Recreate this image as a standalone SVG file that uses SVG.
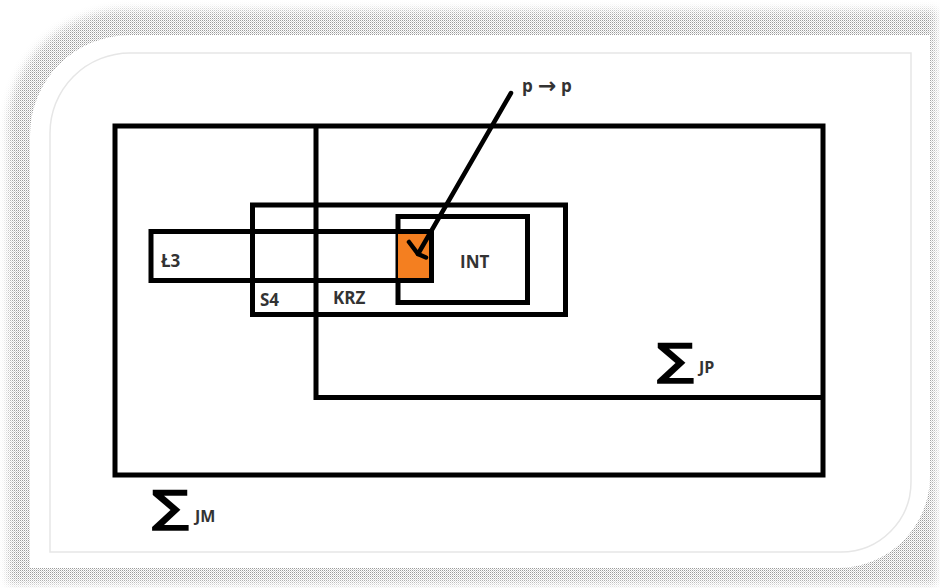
<svg xmlns="http://www.w3.org/2000/svg" width="940" height="588" viewBox="0 0 940 588">
<style>
.box{fill:none;stroke:#000;stroke-width:5}
.lbl{font-family:"Open Sans","Liberation Sans",sans-serif;font-weight:bold;fill:#333;font-size:17px}
.arr{font-family:"DejaVu Sans",sans-serif;font-weight:bold;font-size:22px}
.sig{font-family:"DejaVu Sans","Liberation Sans",sans-serif;font-weight:bold;fill:#000;font-size:45px}
.sub{font-family:"Open Sans","Liberation Sans",sans-serif;font-weight:bold;fill:#333;font-size:16px}
.conn{fill:none;stroke:#000;stroke-width:4.5;stroke-linecap:round;stroke-linejoin:round}
</style>
<defs>
<pattern id="dots" patternUnits="userSpaceOnUse" width="2" height="2">
<rect width="2" height="2" fill="#fff"/>
<rect x="0" y="0" width="1" height="1" fill="#9a9a9a"/>
<rect x="1" y="1" width="1" height="1" fill="#d2d2d2"/>
</pattern>
<filter id="soft" x="-5%" y="-5%" width="110%" height="110%"><feGaussianBlur stdDeviation="4"/></filter>
<mask id="shmask" maskUnits="userSpaceOnUse" x="0" y="0" width="940" height="588">
<path d="M8,130 A118 118 0 0 1 126,10 L936,10 L936,584 L8,584 Z" fill="#fff" filter="url(#soft)"/>
</mask>
</defs>
<rect width="940" height="588" fill="#fff"/>
<g id="frame">
<rect width="940" height="588" fill="url(#dots)" mask="url(#shmask)"/>
<path d="M30,135 A100 100 0 0 1 130,35 L930,35 L930,476 A92 92 0 0 1 838,568 L30,568 Z" fill="#fff"/>
<path d="M50,133 A80 80 0 0 1 130,53 L911,53 L911,482 A70 70 0 0 1 841,552 L50,552 Z" fill="none" stroke="#e6e6e6" stroke-width="1.5"/>
</g>
<g id="JM">
<rect class="box" x="115" y="126" width="708" height="349"/>
<text class="sig" transform="translate(151,522) scale(1.2,1)">∑</text>
<text class="sub" x="195" y="522">JM</text>
</g>
<g id="JP">
<path class="box" d="M316,126 L316,397.5 L823,397.5"/>
<text class="sig" transform="translate(656,375) scale(1.2,1)">∑</text>
<text class="sub" x="699" y="373">JP</text>
</g>
<g id="S4">
<rect class="box" x="252.5" y="205" width="313" height="109.5"/>
<text class="lbl" x="260" y="306">S4</text>
</g>
<g id="KRZ">
<text class="lbl" x="333" y="304">KRZ</text>
</g>
<g id="INT">
<rect class="box" x="398" y="216.5" width="129.5" height="86"/>
<text class="lbl" x="460" y="268">INT</text>
</g>
<g id="L3">
<rect x="398" y="231.5" width="33.5" height="49" fill="#f47f20"/>
<rect class="box" x="151" y="231.5" width="280.5" height="49"/>
<text class="lbl" x="161" y="267">Ł3</text>
</g>
<g id="pp">
<text class="lbl" x="522" y="92">p<tspan class="arr" x="538" y="93">→</tspan><tspan x="561" y="92">p</tspan></text>
</g>
<g id="connectors">
<path class="conn" d="M511,93 L418,254"/>
<path class="conn" d="M409,242 L418,254 L426,257.5"/>
</g>
</svg>
